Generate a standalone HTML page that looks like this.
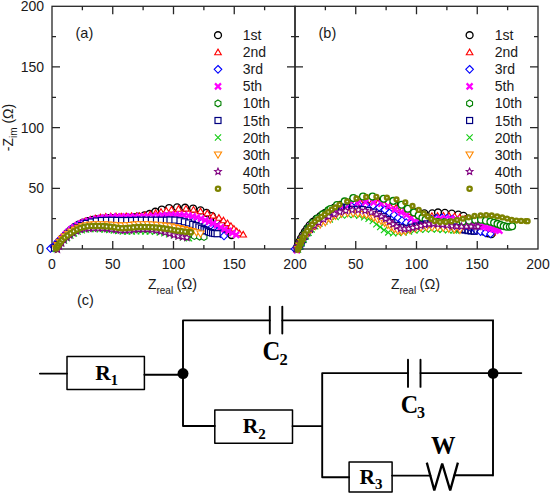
<!DOCTYPE html><html><head><meta charset="utf-8"><style>html,body{margin:0;padding:0;background:#fff;}svg{display:block;}</style></head><body><svg width="550" height="493" viewBox="0 0 550 493"><defs><g id="c1"><circle r="3.45" fill="#fff" stroke="#000" stroke-width="1.35"/></g><g id="t2"><path d="M0,-3.1L3.3,2.5L-3.3,2.5Z" fill="#fff" stroke="#f00" stroke-width="1.1"/></g><g id="d3"><path d="M0,-3.8L3.8,0L0,3.8L-3.8,0Z" fill="#fff" stroke="#00f" stroke-width="1.1"/></g><g id="x5"><path d="M-3,-3L3,3M-3,3L3,-3" stroke="#f0f" stroke-width="2.2"/></g><g id="h10"><path d="M0,-3.4L2.95,-1.7L2.95,1.7L0,3.4L-2.95,1.7L-2.95,-1.7Z" fill="#fff" stroke="#008000" stroke-width="1.1"/></g><g id="s15"><rect x="-3" y="-3" width="6" height="6" fill="#fff" stroke="#000080" stroke-width="1.2"/></g><g id="x20"><path d="M-3.1,-3.1L3.1,3.1M-3.1,3.1L3.1,-3.1" stroke="#1c1" stroke-width="1.1"/></g><g id="v30"><path d="M0,3.6L3.6,-2.6L-3.6,-2.6Z" fill="#fff" stroke="#f80" stroke-width="1.1"/></g><g id="st40"><path d="M0.00,-3.50L0.94,-1.29L3.33,-1.08L1.52,0.49L2.06,2.83L0.00,1.60L-2.06,2.83L-1.52,0.49L-3.33,-1.08L-0.94,-1.29Z" fill="#fff" stroke="#800080" stroke-width="1.1"/></g><g id="o50"><circle r="2.15" fill="#fff" stroke="#7d8300" stroke-width="2.3"/></g><g id="h10b"><circle r="3.4" fill="#fff" stroke="#008000" stroke-width="1.3"/></g><g id="s15b"><rect x="-2.9" y="-2.9" width="5.8" height="5.8" fill="none" stroke="#000080" stroke-width="1.2"/></g><g id="o50b"><circle r="1.95" fill="#fff" stroke="#7d8300" stroke-width="2.4"/></g><clipPath id="ca"><rect x="45" y="0" width="250" height="256"/></clipPath><clipPath id="cb"><rect x="295" y="0" width="250" height="256"/></clipPath></defs><rect width="550" height="493" fill="#fff"/><rect x="52.0" y="6.3" width="243.0" height="242.7" fill="none" stroke="#262626" stroke-width="1.3"/><path d="M82.38,249.00v-4.0M82.38,6.30v4.0M52.00,218.66h4.0M295.00,218.66h-4.0M112.75,249.00v-8.0M112.75,6.30v8.0M52.00,188.32h8.0M295.00,188.32h-8.0M143.12,249.00v-4.0M143.12,6.30v4.0M52.00,157.99h4.0M295.00,157.99h-4.0M173.50,249.00v-8.0M173.50,6.30v8.0M52.00,127.65h8.0M295.00,127.65h-8.0M203.88,249.00v-4.0M203.88,6.30v4.0M52.00,97.31h4.0M295.00,97.31h-4.0M234.25,249.00v-8.0M234.25,6.30v8.0M52.00,66.97h8.0M295.00,66.97h-8.0M264.62,249.00v-4.0M264.62,6.30v4.0M52.00,36.64h4.0M295.00,36.64h-4.0" stroke="#262626" stroke-width="1.3" fill="none"/><rect x="295.0" y="6.3" width="243.0" height="242.7" fill="none" stroke="#262626" stroke-width="1.3"/><path d="M325.38,249.00v-4.0M325.38,6.30v4.0M295.00,218.66h4.0M538.00,218.66h-4.0M355.75,249.00v-8.0M355.75,6.30v8.0M295.00,188.32h8.0M538.00,188.32h-8.0M386.12,249.00v-4.0M386.12,6.30v4.0M295.00,157.99h4.0M538.00,157.99h-4.0M416.50,249.00v-8.0M416.50,6.30v8.0M295.00,127.65h8.0M538.00,127.65h-8.0M446.88,249.00v-4.0M446.88,6.30v4.0M295.00,97.31h4.0M538.00,97.31h-4.0M477.25,249.00v-8.0M477.25,6.30v8.0M295.00,66.97h8.0M538.00,66.97h-8.0M507.62,249.00v-4.0M507.62,6.30v4.0M295.00,36.64h4.0M538.00,36.64h-4.0" stroke="#262626" stroke-width="1.3" fill="none"/><g><use href="#c1" x="55.5" y="248.0"/><use href="#c1" x="57.4" y="244.6"/><use href="#c1" x="59.8" y="241.4"/><use href="#c1" x="62.5" y="238.5"/><use href="#c1" x="65.1" y="235.4"/><use href="#c1" x="67.9" y="232.4"/><use href="#c1" x="71.1" y="229.5"/><use href="#c1" x="74.6" y="226.9"/><use href="#c1" x="78.6" y="224.6"/><use href="#c1" x="82.9" y="222.6"/><use href="#c1" x="87.7" y="221.1"/><use href="#c1" x="92.8" y="219.9"/><use href="#c1" x="97.9" y="219.1"/><use href="#c1" x="103.0" y="218.5"/><use href="#c1" x="108.0" y="218.1"/><use href="#c1" x="113.0" y="218.0"/><use href="#c1" x="118.0" y="218.0"/><use href="#c1" x="123.1" y="217.9"/><use href="#c1" x="128.1" y="217.7"/><use href="#c1" x="133.3" y="217.2"/><use href="#c1" x="138.0" y="216.5"/><use href="#c1" x="144.4" y="215.3"/><use href="#c1" x="149.5" y="213.9"/><use href="#c1" x="155.3" y="211.7"/><use href="#c1" x="161.8" y="209.5"/><use href="#c1" x="169.1" y="208.0"/><use href="#c1" x="177.1" y="207.3"/><use href="#c1" x="185.1" y="207.7"/><use href="#c1" x="193.1" y="208.5"/><use href="#c1" x="200.5" y="210.3"/><use href="#c1" x="206.5" y="212.8"/><use href="#c1" x="211.8" y="216.0"/><use href="#c1" x="216.8" y="220.5"/><use href="#c1" x="221.3" y="224.8"/><use href="#c1" x="225.3" y="228.8"/><use href="#c1" x="228.8" y="232.3"/><use href="#c1" x="231.5" y="235.0"/><use href="#t2" x="55.0" y="248.0"/><use href="#t2" x="57.3" y="244.6"/><use href="#t2" x="59.9" y="241.4"/><use href="#t2" x="62.7" y="238.3"/><use href="#t2" x="65.5" y="234.8"/><use href="#t2" x="68.5" y="231.5"/><use href="#t2" x="71.9" y="228.4"/><use href="#t2" x="75.7" y="225.7"/><use href="#t2" x="80.1" y="223.3"/><use href="#t2" x="85.1" y="221.2"/><use href="#t2" x="90.3" y="219.4"/><use href="#t2" x="95.3" y="218.3"/><use href="#t2" x="100.4" y="217.3"/><use href="#t2" x="105.7" y="216.7"/><use href="#t2" x="110.8" y="216.3"/><use href="#t2" x="116.0" y="216.3"/><use href="#t2" x="121.2" y="216.4"/><use href="#t2" x="126.2" y="216.2"/><use href="#t2" x="131.5" y="216.0"/><use href="#t2" x="136.5" y="216.0"/><use href="#t2" x="139.6" y="215.9"/><use href="#t2" x="145.0" y="215.2"/><use href="#t2" x="150.3" y="214.2"/><use href="#t2" x="155.6" y="213.0"/><use href="#t2" x="161.0" y="211.8"/><use href="#t2" x="166.3" y="210.6"/><use href="#t2" x="171.5" y="209.6"/><use href="#t2" x="178.5" y="208.7"/><use href="#t2" x="186.0" y="208.6"/><use href="#t2" x="193.5" y="209.6"/><use href="#t2" x="200.5" y="211.2"/><use href="#t2" x="207.3" y="213.2"/><use href="#t2" x="213.1" y="215.6"/><use href="#t2" x="218.9" y="217.7"/><use href="#t2" x="223.5" y="220.3"/><use href="#t2" x="227.5" y="223.1"/><use href="#t2" x="230.9" y="225.9"/><use href="#t2" x="233.9" y="228.6"/><use href="#t2" x="236.7" y="231.2"/><use href="#t2" x="239.6" y="233.3"/><use href="#t2" x="243.2" y="234.5"/><use href="#d3" x="50.5" y="248.5"/><use href="#d3" x="53.7" y="246.7"/><use href="#d3" x="56.2" y="243.9"/><use href="#d3" x="58.6" y="240.8"/><use href="#d3" x="61.3" y="238.2"/><use href="#d3" x="64.2" y="235.2"/><use href="#d3" x="67.0" y="232.4"/><use href="#d3" x="70.2" y="229.8"/><use href="#d3" x="73.8" y="227.5"/><use href="#d3" x="77.6" y="225.4"/><use href="#d3" x="81.9" y="223.6"/><use href="#d3" x="86.3" y="222.3"/><use href="#d3" x="90.9" y="221.3"/><use href="#d3" x="95.5" y="220.5"/><use href="#d3" x="100.2" y="219.9"/><use href="#d3" x="105.0" y="219.5"/><use href="#d3" x="109.7" y="219.3"/><use href="#d3" x="115.0" y="219.1"/><use href="#d3" x="120.0" y="219.0"/><use href="#d3" x="125.6" y="218.9"/><use href="#d3" x="130.7" y="218.8"/><use href="#d3" x="135.9" y="218.6"/><use href="#d3" x="141.0" y="218.5"/><use href="#d3" x="146.2" y="218.2"/><use href="#d3" x="151.3" y="217.8"/><use href="#d3" x="156.3" y="217.5"/><use href="#d3" x="161.7" y="217.2"/><use href="#d3" x="166.7" y="217.1"/><use href="#d3" x="171.9" y="217.2"/><use href="#d3" x="177.2" y="217.3"/><use href="#d3" x="182.0" y="217.7"/><use href="#d3" x="189.5" y="218.9"/><use href="#d3" x="193.8" y="220.4"/><use href="#d3" x="197.5" y="221.6"/><use href="#d3" x="201.5" y="222.8"/><use href="#d3" x="205.0" y="224.5"/><use href="#d3" x="208.5" y="226.0"/><use href="#d3" x="211.5" y="227.5"/><use href="#d3" x="214.5" y="229.2"/><use href="#d3" x="217.5" y="231.3"/><use href="#d3" x="220.5" y="233.6"/><use href="#d3" x="224.0" y="236.0"/><use href="#x5" x="54.5" y="248.0"/><use href="#x5" x="56.6" y="245.1"/><use href="#x5" x="58.8" y="242.2"/><use href="#x5" x="61.2" y="239.7"/><use href="#x5" x="63.5" y="237.1"/><use href="#x5" x="65.9" y="234.4"/><use href="#x5" x="68.5" y="231.8"/><use href="#x5" x="71.3" y="229.4"/><use href="#x5" x="74.4" y="227.3"/><use href="#x5" x="77.7" y="225.3"/><use href="#x5" x="81.2" y="223.5"/><use href="#x5" x="84.7" y="222.0"/><use href="#x5" x="88.4" y="220.7"/><use href="#x5" x="92.3" y="219.7"/><use href="#x5" x="96.4" y="218.8"/><use href="#x5" x="100.5" y="218.1"/><use href="#x5" x="104.5" y="217.6"/><use href="#x5" x="108.5" y="217.1"/><use href="#x5" x="112.8" y="216.8"/><use href="#x5" x="117.1" y="216.6"/><use href="#x5" x="121.3" y="216.5"/><use href="#x5" x="125.6" y="216.5"/><use href="#x5" x="130.3" y="216.6"/><use href="#x5" x="135.0" y="216.6"/><use href="#x5" x="139.5" y="216.5"/><use href="#x5" x="144.0" y="216.4"/><use href="#x5" x="148.5" y="216.3"/><use href="#x5" x="153.1" y="216.0"/><use href="#x5" x="157.8" y="215.7"/><use href="#x5" x="162.3" y="215.4"/><use href="#x5" x="166.8" y="215.1"/><use href="#x5" x="171.2" y="214.9"/><use href="#x5" x="175.5" y="214.8"/><use href="#x5" x="179.7" y="214.9"/><use href="#x5" x="184.1" y="215.1"/><use href="#x5" x="188.4" y="215.6"/><use href="#x5" x="192.6" y="216.3"/><use href="#x5" x="196.8" y="217.3"/><use href="#x5" x="201.0" y="218.5"/><use href="#x5" x="205.2" y="220.1"/><use href="#x5" x="209.2" y="221.6"/><use href="#x5" x="213.0" y="223.4"/><use href="#x5" x="217.0" y="225.3"/><use href="#x5" x="220.8" y="227.2"/><use href="#x5" x="224.5" y="229.1"/><use href="#x5" x="228.4" y="231.1"/><use href="#x5" x="232.4" y="233.0"/><use href="#x5" x="236.2" y="234.9"/><use href="#h10" x="56.0" y="249.0"/><use href="#h10" x="58.2" y="245.9"/><use href="#h10" x="60.5" y="242.8"/><use href="#h10" x="63.1" y="239.8"/><use href="#h10" x="66.0" y="237.0"/><use href="#h10" x="69.1" y="234.3"/><use href="#h10" x="72.7" y="232.0"/><use href="#h10" x="76.3" y="230.1"/><use href="#h10" x="80.4" y="228.6"/><use href="#h10" x="84.6" y="227.6"/><use href="#h10" x="88.9" y="226.9"/><use href="#h10" x="93.5" y="226.6"/><use href="#h10" x="98.0" y="226.5"/><use href="#h10" x="103.0" y="226.7"/><use href="#h10" x="108.0" y="227.1"/><use href="#h10" x="113.0" y="227.8"/><use href="#h10" x="118.0" y="228.3"/><use href="#h10" x="123.0" y="228.7"/><use href="#h10" x="128.0" y="228.8"/><use href="#h10" x="133.0" y="228.6"/><use href="#h10" x="137.8" y="228.4"/><use href="#h10" x="142.7" y="228.3"/><use href="#h10" x="147.7" y="228.4"/><use href="#h10" x="153.2" y="228.5"/><use href="#h10" x="158.6" y="228.9"/><use href="#h10" x="163.9" y="229.5"/><use href="#h10" x="169.2" y="230.4"/><use href="#h10" x="174.1" y="231.5"/><use href="#h10" x="179.1" y="232.8"/><use href="#h10" x="184.0" y="234.0"/><use href="#h10" x="189.2" y="235.1"/><use href="#h10" x="194.4" y="236.0"/><use href="#h10" x="199.6" y="236.6"/><use href="#h10" x="204.0" y="237.0"/><use href="#s15" x="54.5" y="248.0"/><use href="#s15" x="57.0" y="245.0"/><use href="#s15" x="59.7" y="242.1"/><use href="#s15" x="62.7" y="239.3"/><use href="#s15" x="66.0" y="236.2"/><use href="#s15" x="69.5" y="233.2"/><use href="#s15" x="73.3" y="230.5"/><use href="#s15" x="77.4" y="227.8"/><use href="#s15" x="81.7" y="225.5"/><use href="#s15" x="86.2" y="223.4"/><use href="#s15" x="91.2" y="222.0"/><use href="#s15" x="96.3" y="221.0"/><use href="#s15" x="101.4" y="220.5"/><use href="#s15" x="106.5" y="220.3"/><use href="#s15" x="111.6" y="220.3"/><use href="#s15" x="116.7" y="220.4"/><use href="#s15" x="121.6" y="220.5"/><use href="#s15" x="126.7" y="220.5"/><use href="#s15" x="131.6" y="220.5"/><use href="#s15" x="136.5" y="220.3"/><use href="#s15" x="141.4" y="220.2"/><use href="#s15" x="146.4" y="220.2"/><use href="#s15" x="151.4" y="220.2"/><use href="#s15" x="156.5" y="220.2"/><use href="#s15" x="161.4" y="220.2"/><use href="#s15" x="166.4" y="220.2"/><use href="#s15" x="170.0" y="220.0"/><use href="#s15" x="174.9" y="220.1"/><use href="#s15" x="180.0" y="220.7"/><use href="#s15" x="184.4" y="221.8"/><use href="#s15" x="188.7" y="222.9"/><use href="#s15" x="192.7" y="224.4"/><use href="#s15" x="196.0" y="225.6"/><use href="#s15" x="198.9" y="226.9"/><use href="#s15" x="201.5" y="228.3"/><use href="#s15" x="204.0" y="229.6"/><use href="#s15" x="206.2" y="230.7"/><use href="#s15" x="208.4" y="231.7"/><use href="#s15" x="210.5" y="232.5"/><use href="#s15" x="212.6" y="233.1"/><use href="#s15" x="214.6" y="233.5"/><use href="#s15" x="217.1" y="233.7"/><use href="#x20" x="56.0" y="249.0"/><use href="#x20" x="58.5" y="246.1"/><use href="#x20" x="61.1" y="243.3"/><use href="#x20" x="64.0" y="240.6"/><use href="#x20" x="67.0" y="238.0"/><use href="#x20" x="70.4" y="235.5"/><use href="#x20" x="73.9" y="233.4"/><use href="#x20" x="77.7" y="231.6"/><use href="#x20" x="81.8" y="230.3"/><use href="#x20" x="86.0" y="229.5"/><use href="#x20" x="90.5" y="229.0"/><use href="#x20" x="95.0" y="229.0"/><use href="#x20" x="99.8" y="229.2"/><use href="#x20" x="104.5" y="229.6"/><use href="#x20" x="109.2" y="229.9"/><use href="#x20" x="113.8" y="230.4"/><use href="#x20" x="118.2" y="230.9"/><use href="#x20" x="122.8" y="231.4"/><use href="#x20" x="127.2" y="231.6"/><use href="#x20" x="131.8" y="231.5"/><use href="#x20" x="136.2" y="231.3"/><use href="#x20" x="140.8" y="231.3"/><use href="#x20" x="145.3" y="231.4"/><use href="#x20" x="149.9" y="231.5"/><use href="#x20" x="155.0" y="231.8"/><use href="#x20" x="159.8" y="232.4"/><use href="#x20" x="164.4" y="233.3"/><use href="#x20" x="169.1" y="234.2"/><use href="#x20" x="173.9" y="235.3"/><use href="#x20" x="178.4" y="236.4"/><use href="#x20" x="182.9" y="237.4"/><use href="#x20" x="187.4" y="238.0"/><use href="#x20" x="189.0" y="238.2"/><use href="#v30" x="56.0" y="248.5"/><use href="#v30" x="57.8" y="245.1"/><use href="#v30" x="59.9" y="242.0"/><use href="#v30" x="62.2" y="239.0"/><use href="#v30" x="65.0" y="236.3"/><use href="#v30" x="68.1" y="233.9"/><use href="#v30" x="71.3" y="231.6"/><use href="#v30" x="74.7" y="229.7"/><use href="#v30" x="78.3" y="228.0"/><use href="#v30" x="82.1" y="226.5"/><use href="#v30" x="86.0" y="225.4"/><use href="#v30" x="90.4" y="224.7"/><use href="#v30" x="94.8" y="224.3"/><use href="#v30" x="99.2" y="224.3"/><use href="#v30" x="103.6" y="224.4"/><use href="#v30" x="108.0" y="224.6"/><use href="#v30" x="112.4" y="224.8"/><use href="#v30" x="116.8" y="225.3"/><use href="#v30" x="121.2" y="225.5"/><use href="#v30" x="125.7" y="225.4"/><use href="#v30" x="130.1" y="225.1"/><use href="#v30" x="134.6" y="224.5"/><use href="#v30" x="138.8" y="224.3"/><use href="#v30" x="143.5" y="224.3"/><use href="#v30" x="148.0" y="224.4"/><use href="#v30" x="152.5" y="224.6"/><use href="#v30" x="157.0" y="224.8"/><use href="#v30" x="161.7" y="225.3"/><use href="#v30" x="166.2" y="225.7"/><use href="#v30" x="170.6" y="226.4"/><use href="#v30" x="174.8" y="227.3"/><use href="#v30" x="179.2" y="228.2"/><use href="#v30" x="183.6" y="229.2"/><use href="#v30" x="188.0" y="230.2"/><use href="#v30" x="192.2" y="231.2"/><use href="#v30" x="196.4" y="232.4"/><use href="#v30" x="200.5" y="233.6"/><use href="#st40" x="57.5" y="249.5"/><use href="#st40" x="59.5" y="246.3"/><use href="#st40" x="61.6" y="243.1"/><use href="#st40" x="63.7" y="239.9"/><use href="#st40" x="66.7" y="237.5"/><use href="#st40" x="69.7" y="235.2"/><use href="#st40" x="73.0" y="233.0"/><use href="#st40" x="76.5" y="231.1"/><use href="#st40" x="80.3" y="229.6"/><use href="#st40" x="84.5" y="228.8"/><use href="#st40" x="88.8" y="228.5"/><use href="#st40" x="93.3" y="228.3"/><use href="#st40" x="98.0" y="228.3"/><use href="#st40" x="102.5" y="228.4"/><use href="#st40" x="107.0" y="228.7"/><use href="#st40" x="111.5" y="229.2"/><use href="#st40" x="116.0" y="229.9"/><use href="#st40" x="120.5" y="230.3"/><use href="#st40" x="125.0" y="230.4"/><use href="#st40" x="129.5" y="230.2"/><use href="#st40" x="134.0" y="229.8"/><use href="#st40" x="138.5" y="229.4"/><use href="#st40" x="143.0" y="229.3"/><use href="#st40" x="147.5" y="229.4"/><use href="#st40" x="152.0" y="229.8"/><use href="#st40" x="156.6" y="230.4"/><use href="#st40" x="160.9" y="231.2"/><use href="#st40" x="165.4" y="232.3"/><use href="#st40" x="169.8" y="233.6"/><use href="#st40" x="174.0" y="235.0"/><use href="#st40" x="178.2" y="236.1"/><use href="#st40" x="182.7" y="236.9"/><use href="#st40" x="186.9" y="237.6"/><use href="#o50" x="56.0" y="248.5"/><use href="#o50" x="57.1" y="247.0"/><use href="#o50" x="58.2" y="245.4"/><use href="#o50" x="59.4" y="243.8"/><use href="#o50" x="60.6" y="242.0"/><use href="#o50" x="62.4" y="239.7"/><use href="#o50" x="64.8" y="237.5"/><use href="#o50" x="67.6" y="235.4"/><use href="#o50" x="70.7" y="233.2"/><use href="#o50" x="73.8" y="231.2"/><use href="#o50" x="77.1" y="229.6"/><use href="#o50" x="80.4" y="228.1"/><use href="#o50" x="84.0" y="226.9"/><use href="#o50" x="87.6" y="226.2"/><use href="#o50" x="91.6" y="226.0"/><use href="#o50" x="95.5" y="225.9"/><use href="#o50" x="99.3" y="226.0"/><use href="#o50" x="103.1" y="226.1"/><use href="#o50" x="106.7" y="226.4"/><use href="#o50" x="110.7" y="226.8"/><use href="#o50" x="114.4" y="227.3"/><use href="#o50" x="118.2" y="227.9"/><use href="#o50" x="122.1" y="228.3"/><use href="#o50" x="126.1" y="228.1"/><use href="#o50" x="129.7" y="227.8"/><use href="#o50" x="133.3" y="227.4"/><use href="#o50" x="137.2" y="227.0"/><use href="#o50" x="140.9" y="226.9"/><use href="#o50" x="144.8" y="227.0"/><use href="#o50" x="148.7" y="227.1"/><use href="#o50" x="152.4" y="227.2"/><use href="#o50" x="156.1" y="227.5"/><use href="#o50" x="159.7" y="227.9"/><use href="#o50" x="163.4" y="228.4"/><use href="#o50" x="167.0" y="228.9"/><use href="#o50" x="170.7" y="229.5"/><use href="#o50" x="174.5" y="230.2"/><use href="#o50" x="178.1" y="230.7"/><use href="#o50" x="181.9" y="231.3"/><use href="#o50" x="185.4" y="231.7"/><use href="#o50" x="189.1" y="232.1"/><use href="#o50" x="190.9" y="232.3"/></g><g><use href="#c1" x="296.5" y="248.5"/><use href="#c1" x="297.9" y="245.1"/><use href="#c1" x="299.4" y="241.7"/><use href="#c1" x="301.0" y="238.5"/><use href="#c1" x="302.8" y="235.1"/><use href="#c1" x="304.9" y="231.7"/><use href="#c1" x="307.2" y="228.4"/><use href="#c1" x="309.8" y="225.1"/><use href="#c1" x="312.9" y="221.8"/><use href="#c1" x="316.4" y="218.8"/><use href="#c1" x="320.5" y="216.0"/><use href="#c1" x="324.7" y="213.2"/><use href="#c1" x="329.5" y="210.3"/><use href="#c1" x="334.6" y="207.5"/><use href="#c1" x="340.1" y="204.9"/><use href="#c1" x="346.0" y="202.6"/><use href="#c1" x="351.9" y="201.1"/><use href="#c1" x="358.0" y="200.0"/><use href="#c1" x="364.3" y="199.4"/><use href="#c1" x="370.4" y="199.5"/><use href="#c1" x="376.4" y="200.0"/><use href="#c1" x="382.5" y="201.0"/><use href="#c1" x="388.5" y="202.3"/><use href="#c1" x="394.5" y="204.1"/><use href="#c1" x="400.5" y="206.2"/><use href="#c1" x="406.5" y="208.5"/><use href="#c1" x="412.4" y="210.6"/><use href="#c1" x="418.3" y="212.3"/><use href="#c1" x="424.4" y="213.3"/><use href="#c1" x="432.2" y="213.3"/><use href="#c1" x="438.0" y="212.4"/><use href="#c1" x="444.9" y="212.8"/><use href="#c1" x="451.8" y="213.6"/><use href="#c1" x="458.3" y="214.6"/><use href="#c1" x="463.5" y="215.8"/><use href="#c1" x="468.0" y="218.5"/><use href="#c1" x="472.0" y="222.0"/><use href="#c1" x="476.0" y="225.5"/><use href="#c1" x="480.0" y="228.8"/><use href="#c1" x="484.0" y="231.5"/><use href="#c1" x="488.0" y="233.3"/><use href="#c1" x="491.5" y="234.2"/><use href="#t2" x="297.0" y="249.5"/><use href="#t2" x="298.4" y="246.1"/><use href="#t2" x="299.9" y="242.7"/><use href="#t2" x="301.5" y="239.5"/><use href="#t2" x="303.3" y="236.1"/><use href="#t2" x="305.4" y="232.7"/><use href="#t2" x="307.7" y="229.4"/><use href="#t2" x="310.3" y="226.1"/><use href="#t2" x="313.2" y="223.0"/><use href="#t2" x="316.5" y="220.1"/><use href="#t2" x="320.3" y="217.4"/><use href="#t2" x="324.5" y="214.7"/><use href="#t2" x="328.7" y="212.1"/><use href="#t2" x="333.2" y="209.4"/><use href="#t2" x="338.2" y="207.0"/><use href="#t2" x="343.4" y="204.7"/><use href="#t2" x="349.0" y="203.3"/><use href="#t2" x="354.7" y="202.6"/><use href="#t2" x="360.3" y="202.0"/><use href="#t2" x="366.0" y="201.8"/><use href="#t2" x="371.9" y="202.1"/><use href="#t2" x="378.0" y="202.8"/><use href="#t2" x="384.0" y="204.2"/><use href="#t2" x="390.0" y="205.9"/><use href="#t2" x="396.0" y="207.8"/><use href="#t2" x="402.0" y="209.9"/><use href="#t2" x="407.9" y="212.0"/><use href="#t2" x="413.7" y="213.9"/><use href="#t2" x="419.7" y="215.3"/><use href="#t2" x="425.8" y="216.0"/><use href="#t2" x="431.9" y="215.9"/><use href="#t2" x="437.6" y="215.8"/><use href="#t2" x="443.5" y="215.6"/><use href="#t2" x="449.0" y="215.7"/><use href="#t2" x="454.6" y="216.1"/><use href="#t2" x="459.7" y="217.2"/><use href="#t2" x="464.8" y="218.9"/><use href="#t2" x="469.6" y="220.9"/><use href="#t2" x="474.4" y="223.2"/><use href="#t2" x="479.2" y="225.6"/><use href="#t2" x="483.7" y="228.1"/><use href="#t2" x="488.2" y="230.6"/><use href="#t2" x="492.0" y="232.5"/><use href="#d3" x="295.0" y="249.0"/><use href="#d3" x="297.8" y="246.9"/><use href="#d3" x="299.8" y="243.9"/><use href="#d3" x="301.3" y="240.5"/><use href="#d3" x="303.1" y="237.0"/><use href="#d3" x="304.9" y="233.9"/><use href="#d3" x="307.1" y="230.6"/><use href="#d3" x="309.5" y="227.6"/><use href="#d3" x="312.2" y="224.6"/><use href="#d3" x="315.2" y="221.6"/><use href="#d3" x="318.6" y="219.1"/><use href="#d3" x="322.3" y="216.6"/><use href="#d3" x="326.2" y="214.1"/><use href="#d3" x="330.2" y="211.7"/><use href="#d3" x="334.6" y="209.2"/><use href="#d3" x="339.3" y="207.0"/><use href="#d3" x="344.5" y="204.8"/><use href="#d3" x="350.8" y="205.5"/><use href="#d3" x="358.4" y="204.7"/><use href="#d3" x="366.0" y="204.6"/><use href="#d3" x="373.0" y="205.6"/><use href="#d3" x="379.2" y="207.3"/><use href="#d3" x="384.9" y="209.8"/><use href="#d3" x="389.5" y="212.8"/><use href="#d3" x="394.0" y="215.0"/><use href="#d3" x="398.0" y="217.8"/><use href="#d3" x="402.0" y="220.5"/><use href="#d3" x="406.3" y="222.7"/><use href="#d3" x="411.4" y="223.3"/><use href="#d3" x="416.6" y="222.7"/><use href="#d3" x="421.7" y="221.7"/><use href="#d3" x="426.7" y="220.4"/><use href="#d3" x="431.6" y="219.3"/><use href="#d3" x="436.8" y="218.3"/><use href="#d3" x="442.0" y="217.9"/><use href="#d3" x="447.2" y="218.1"/><use href="#d3" x="452.4" y="219.0"/><use href="#d3" x="457.3" y="220.8"/><use href="#d3" x="462.0" y="223.0"/><use href="#d3" x="466.5" y="225.7"/><use href="#d3" x="471.0" y="228.0"/><use href="#d3" x="475.8" y="230.0"/><use href="#d3" x="480.6" y="231.6"/><use href="#d3" x="485.4" y="232.9"/><use href="#d3" x="490.5" y="233.9"/><use href="#x5" x="297.0" y="250.3"/><use href="#x5" x="298.4" y="246.9"/><use href="#x5" x="299.9" y="243.5"/><use href="#x5" x="301.6" y="240.1"/><use href="#x5" x="303.4" y="236.7"/><use href="#x5" x="305.6" y="233.1"/><use href="#x5" x="308.2" y="229.6"/><use href="#x5" x="311.0" y="226.2"/><use href="#x5" x="314.3" y="222.8"/><use href="#x5" x="318.4" y="219.5"/><use href="#x5" x="323.0" y="216.4"/><use href="#x5" x="328.0" y="213.3"/><use href="#x5" x="334.0" y="209.8"/><use href="#x5" x="341.4" y="206.2"/><use href="#x5" x="349.4" y="204.8"/><use href="#x5" x="357.6" y="203.3"/><use href="#x5" x="365.5" y="202.3"/><use href="#x5" x="373.6" y="202.4"/><use href="#x5" x="381.4" y="203.8"/><use href="#x5" x="388.5" y="206.3"/><use href="#x5" x="395.0" y="209.6"/><use href="#x5" x="401.1" y="212.4"/><use href="#x5" x="406.4" y="215.0"/><use href="#x5" x="410.7" y="218.3"/><use href="#x5" x="414.9" y="221.1"/><use href="#x5" x="419.9" y="221.6"/><use href="#x5" x="425.1" y="221.0"/><use href="#x5" x="430.2" y="220.1"/><use href="#x5" x="435.4" y="219.3"/><use href="#x5" x="440.5" y="218.6"/><use href="#x5" x="445.7" y="218.5"/><use href="#x5" x="450.7" y="218.9"/><use href="#x5" x="455.7" y="219.4"/><use href="#x5" x="459.5" y="220.0"/><use href="#x5" x="462.8" y="220.7"/><use href="#x5" x="466.0" y="221.5"/><use href="#x5" x="469.1" y="222.4"/><use href="#x5" x="472.2" y="223.2"/><use href="#x5" x="475.2" y="224.1"/><use href="#x5" x="478.2" y="225.0"/><use href="#x5" x="481.2" y="225.9"/><use href="#x5" x="484.2" y="226.8"/><use href="#x5" x="487.3" y="227.6"/><use href="#x5" x="490.4" y="228.4"/><use href="#x5" x="493.5" y="229.2"/><use href="#x5" x="496.4" y="229.9"/><use href="#x5" x="499.4" y="230.6"/><use href="#h10b" x="297.8" y="248.0"/><use href="#h10b" x="299.2" y="244.4"/><use href="#h10b" x="300.9" y="240.9"/><use href="#h10b" x="303.1" y="237.0"/><use href="#h10b" x="305.5" y="233.0"/><use href="#h10b" x="308.5" y="228.3"/><use href="#h10b" x="312.4" y="223.1"/><use href="#h10b" x="317.4" y="218.5"/><use href="#h10b" x="322.7" y="214.4"/><use href="#h10b" x="328.4" y="210.4"/><use href="#h10b" x="330.5" y="209.0"/><use href="#h10b" x="337.0" y="205.0"/><use href="#h10b" x="344.7" y="201.4"/><use href="#h10b" x="353.3" y="198.1"/><use href="#h10b" x="363.0" y="196.5"/><use href="#h10b" x="372.5" y="196.6"/><use href="#h10b" x="383.7" y="198.7"/><use href="#h10b" x="393.3" y="200.9"/><use href="#h10b" x="401.6" y="204.8"/><use href="#h10b" x="407.8" y="208.8"/><use href="#h10b" x="414.0" y="212.5"/><use href="#h10b" x="418.7" y="215.4"/><use href="#h10b" x="422.4" y="217.9"/><use href="#h10b" x="425.6" y="219.7"/><use href="#h10b" x="431.5" y="221.2"/><use href="#h10b" x="437.9" y="222.0"/><use href="#h10b" x="444.0" y="222.4"/><use href="#h10b" x="450.0" y="222.5"/><use href="#h10b" x="456.5" y="222.3"/><use href="#h10b" x="462.8" y="221.6"/><use href="#h10b" x="469.1" y="220.8"/><use href="#h10b" x="475.3" y="220.1"/><use href="#h10b" x="481.0" y="219.7"/><use href="#h10b" x="485.9" y="220.8"/><use href="#h10b" x="490.4" y="221.8"/><use href="#h10b" x="494.1" y="222.7"/><use href="#h10b" x="497.5" y="223.9"/><use href="#h10b" x="500.6" y="225.1"/><use href="#h10b" x="503.7" y="226.1"/><use href="#h10b" x="506.7" y="226.8"/><use href="#h10b" x="509.8" y="226.7"/><use href="#h10b" x="512.1" y="226.2"/><use href="#s15b" x="297.0" y="248.5"/><use href="#s15b" x="299.8" y="246.5"/><use href="#s15b" x="301.2" y="243.1"/><use href="#s15b" x="302.9" y="239.7"/><use href="#s15b" x="304.9" y="236.3"/><use href="#s15b" x="307.1" y="232.9"/><use href="#s15b" x="309.6" y="229.6"/><use href="#s15b" x="312.3" y="226.4"/><use href="#s15b" x="315.5" y="223.3"/><use href="#s15b" x="319.1" y="220.6"/><use href="#s15b" x="323.1" y="217.9"/><use href="#s15b" x="327.2" y="215.3"/><use href="#s15b" x="331.7" y="212.6"/><use href="#s15b" x="336.4" y="210.0"/><use href="#s15b" x="341.4" y="207.6"/><use href="#s15b" x="346.7" y="207.0"/><use href="#s15b" x="351.7" y="209.4"/><use href="#s15b" x="357.3" y="209.1"/><use href="#s15b" x="362.8" y="209.5"/><use href="#s15b" x="368.1" y="210.5"/><use href="#s15b" x="373.4" y="212.0"/><use href="#s15b" x="378.5" y="214.2"/><use href="#s15b" x="383.3" y="216.6"/><use href="#s15b" x="387.7" y="219.4"/><use href="#s15b" x="391.9" y="222.6"/><use href="#s15b" x="396.3" y="225.4"/><use href="#s15b" x="401.0" y="227.6"/><use href="#s15b" x="406.3" y="228.1"/><use href="#s15b" x="411.4" y="227.1"/><use href="#s15b" x="416.4" y="226.0"/><use href="#s15b" x="421.5" y="224.8"/><use href="#s15b" x="426.3" y="223.8"/><use href="#s15b" x="430.8" y="223.4"/><use href="#s15b" x="435.0" y="223.6"/><use href="#s15b" x="438.9" y="224.0"/><use href="#s15b" x="442.6" y="224.4"/><use href="#s15b" x="446.2" y="225.0"/><use href="#s15b" x="449.7" y="225.9"/><use href="#s15b" x="453.0" y="226.8"/><use href="#s15b" x="455.9" y="227.8"/><use href="#s15b" x="458.9" y="228.8"/><use href="#s15b" x="461.9" y="229.5"/><use href="#s15b" x="464.9" y="230.2"/><use href="#s15b" x="468.0" y="230.7"/><use href="#s15b" x="471.1" y="231.1"/><use href="#s15b" x="474.3" y="231.4"/><use href="#x20" x="298.0" y="249.5"/><use href="#x20" x="299.6" y="246.2"/><use href="#x20" x="301.5" y="242.9"/><use href="#x20" x="303.6" y="239.6"/><use href="#x20" x="305.9" y="236.2"/><use href="#x20" x="308.6" y="232.7"/><use href="#x20" x="311.6" y="229.4"/><use href="#x20" x="315.2" y="226.3"/><use href="#x20" x="319.4" y="223.6"/><use href="#x20" x="324.4" y="221.4"/><use href="#x20" x="329.8" y="219.4"/><use href="#x20" x="335.6" y="217.1"/><use href="#x20" x="341.9" y="215.5"/><use href="#x20" x="348.0" y="214.7"/><use href="#x20" x="353.8" y="215.1"/><use href="#x20" x="359.3" y="215.8"/><use href="#x20" x="364.2" y="217.2"/><use href="#x20" x="368.6" y="218.8"/><use href="#x20" x="372.8" y="221.0"/><use href="#x20" x="376.4" y="224.2"/><use href="#x20" x="380.2" y="227.1"/><use href="#x20" x="384.0" y="230.1"/><use href="#x20" x="388.3" y="232.4"/><use href="#x20" x="393.2" y="233.3"/><use href="#x20" x="398.3" y="233.1"/><use href="#x20" x="403.5" y="232.6"/><use href="#x20" x="408.9" y="231.6"/><use href="#x20" x="414.3" y="230.6"/><use href="#x20" x="420.0" y="229.8"/><use href="#x20" x="425.7" y="229.5"/><use href="#x20" x="431.4" y="229.3"/><use href="#x20" x="437.1" y="229.4"/><use href="#x20" x="442.7" y="229.9"/><use href="#x20" x="448.2" y="230.2"/><use href="#x20" x="453.7" y="230.4"/><use href="#x20" x="456.0" y="230.5"/><use href="#v30" x="298.0" y="249.0"/><use href="#v30" x="299.6" y="245.7"/><use href="#v30" x="301.5" y="242.2"/><use href="#v30" x="303.5" y="239.0"/><use href="#v30" x="305.7" y="235.7"/><use href="#v30" x="308.3" y="232.3"/><use href="#v30" x="311.4" y="229.1"/><use href="#v30" x="315.3" y="226.1"/><use href="#v30" x="320.2" y="224.5"/><use href="#v30" x="325.3" y="222.2"/><use href="#v30" x="330.3" y="219.3"/><use href="#v30" x="335.6" y="215.8"/><use href="#v30" x="341.6" y="213.8"/><use href="#v30" x="347.7" y="213.2"/><use href="#v30" x="353.1" y="213.3"/><use href="#v30" x="357.9" y="213.6"/><use href="#v30" x="362.4" y="214.1"/><use href="#v30" x="366.4" y="214.9"/><use href="#v30" x="370.4" y="215.9"/><use href="#v30" x="373.8" y="217.8"/><use href="#v30" x="377.5" y="219.4"/><use href="#v30" x="381.1" y="220.9"/><use href="#v30" x="384.6" y="222.8"/><use href="#v30" x="387.8" y="224.9"/><use href="#v30" x="391.0" y="227.1"/><use href="#v30" x="394.3" y="229.2"/><use href="#v30" x="397.8" y="230.8"/><use href="#v30" x="401.5" y="231.5"/><use href="#v30" x="405.4" y="231.2"/><use href="#v30" x="410.0" y="230.0"/><use href="#v30" x="415.3" y="228.6"/><use href="#v30" x="420.9" y="227.8"/><use href="#v30" x="426.5" y="227.4"/><use href="#v30" x="432.1" y="227.4"/><use href="#v30" x="437.7" y="227.6"/><use href="#v30" x="443.3" y="227.9"/><use href="#v30" x="448.8" y="228.7"/><use href="#v30" x="454.3" y="229.5"/><use href="#v30" x="459.9" y="230.0"/><use href="#st40" x="297.0" y="249.0"/><use href="#st40" x="298.6" y="245.7"/><use href="#st40" x="300.3" y="242.4"/><use href="#st40" x="302.3" y="239.1"/><use href="#st40" x="304.5" y="235.8"/><use href="#st40" x="307.1" y="232.4"/><use href="#st40" x="310.4" y="228.9"/><use href="#st40" x="314.3" y="225.7"/><use href="#st40" x="318.8" y="222.5"/><use href="#st40" x="323.6" y="219.3"/><use href="#st40" x="328.8" y="216.6"/><use href="#st40" x="334.3" y="214.1"/><use href="#st40" x="339.9" y="212.0"/><use href="#st40" x="345.7" y="210.7"/><use href="#st40" x="352.2" y="210.0"/><use href="#st40" x="358.4" y="210.0"/><use href="#st40" x="365.0" y="210.7"/><use href="#st40" x="371.2" y="212.3"/><use href="#st40" x="376.7" y="214.4"/><use href="#st40" x="381.4" y="216.6"/><use href="#st40" x="385.6" y="218.9"/><use href="#st40" x="389.4" y="221.6"/><use href="#st40" x="393.0" y="224.3"/><use href="#st40" x="396.7" y="226.6"/><use href="#st40" x="400.5" y="228.5"/><use href="#st40" x="404.5" y="229.1"/><use href="#st40" x="408.6" y="228.8"/><use href="#st40" x="412.8" y="227.7"/><use href="#st40" x="416.8" y="226.7"/><use href="#st40" x="420.8" y="225.8"/><use href="#st40" x="424.9" y="224.7"/><use href="#st40" x="429.1" y="224.1"/><use href="#st40" x="433.4" y="223.9"/><use href="#st40" x="437.9" y="224.2"/><use href="#st40" x="442.6" y="224.7"/><use href="#st40" x="447.3" y="225.3"/><use href="#st40" x="452.0" y="226.0"/><use href="#st40" x="456.8" y="226.4"/><use href="#st40" x="461.6" y="226.5"/><use href="#st40" x="466.5" y="226.5"/><use href="#st40" x="471.1" y="226.4"/><use href="#st40" x="475.7" y="226.3"/><use href="#st40" x="478.0" y="226.5"/><use href="#o50b" x="298.0" y="249.5"/><use href="#o50b" x="298.7" y="247.8"/><use href="#o50b" x="299.5" y="246.0"/><use href="#o50b" x="300.3" y="244.1"/><use href="#o50b" x="301.1" y="242.3"/><use href="#o50b" x="301.9" y="240.3"/><use href="#o50b" x="302.8" y="238.5"/><use href="#o50b" x="303.7" y="236.6"/><use href="#o50b" x="305.1" y="233.9"/><use href="#o50b" x="307.2" y="230.7"/><use href="#o50b" x="309.6" y="227.6"/><use href="#o50b" x="312.1" y="224.5"/><use href="#o50b" x="314.9" y="221.6"/><use href="#o50b" x="317.9" y="219.1"/><use href="#o50b" x="321.4" y="216.8"/><use href="#o50b" x="324.7" y="214.4"/><use href="#o50b" x="328.2" y="212.1"/><use href="#o50b" x="331.6" y="209.6"/><use href="#o50b" x="335.2" y="207.4"/><use href="#o50b" x="339.5" y="204.6"/><use href="#o50b" x="347.2" y="201.4"/><use href="#o50b" x="356.5" y="198.5"/><use href="#o50b" x="366.2" y="196.9"/><use href="#o50b" x="376.4" y="196.8"/><use href="#o50b" x="386.9" y="197.7"/><use href="#o50b" x="396.5" y="199.4"/><use href="#o50b" x="405.3" y="202.3"/><use href="#o50b" x="412.5" y="205.9"/><use href="#o50b" x="418.7" y="209.9"/><use href="#o50b" x="423.8" y="213.5"/><use href="#o50b" x="427.8" y="216.5"/><use href="#o50b" x="431.4" y="218.9"/><use href="#o50b" x="434.6" y="221.0"/><use href="#o50b" x="440.0" y="222.0"/><use href="#o50b" x="445.8" y="221.9"/><use href="#o50b" x="451.5" y="221.3"/><use href="#o50b" x="457.1" y="220.0"/><use href="#o50b" x="462.9" y="218.7"/><use href="#o50b" x="468.7" y="217.3"/><use href="#o50b" x="474.5" y="216.0"/><use href="#o50b" x="480.6" y="215.4"/><use href="#o50b" x="486.2" y="215.1"/><use href="#o50b" x="491.7" y="215.5"/><use href="#o50b" x="497.1" y="216.4"/><use href="#o50b" x="502.2" y="217.4"/><use href="#o50b" x="507.1" y="218.6"/><use href="#o50b" x="511.7" y="220.0"/><use href="#o50b" x="516.4" y="220.6"/><use href="#o50b" x="521.1" y="220.9"/><use href="#o50b" x="525.8" y="221.1"/><use href="#o50b" x="527.6" y="221.2"/></g><text x="44" y="254.0" font-family="Liberation Sans, sans-serif" font-size="14" text-anchor="end" fill="#1a1a1a">0</text><text x="44" y="193.2" font-family="Liberation Sans, sans-serif" font-size="14" text-anchor="end" fill="#1a1a1a">50</text><text x="44" y="132.5" font-family="Liberation Sans, sans-serif" font-size="14" text-anchor="end" fill="#1a1a1a">100</text><text x="44" y="71.8" font-family="Liberation Sans, sans-serif" font-size="14" text-anchor="end" fill="#1a1a1a">150</text><text x="44" y="11.0" font-family="Liberation Sans, sans-serif" font-size="14" text-anchor="end" fill="#1a1a1a">200</text><text x="52.0" y="268.5" font-family="Liberation Sans, sans-serif" font-size="14" text-anchor="middle" fill="#1a1a1a">0</text><text x="112.8" y="268.5" font-family="Liberation Sans, sans-serif" font-size="14" text-anchor="middle" fill="#1a1a1a">50</text><text x="173.5" y="268.5" font-family="Liberation Sans, sans-serif" font-size="14" text-anchor="middle" fill="#1a1a1a">100</text><text x="234.2" y="268.5" font-family="Liberation Sans, sans-serif" font-size="14" text-anchor="middle" fill="#1a1a1a">150</text><text x="295.0" y="268.5" font-family="Liberation Sans, sans-serif" font-size="14" text-anchor="middle" fill="#1a1a1a">200</text><text x="355.8" y="268.5" font-family="Liberation Sans, sans-serif" font-size="14" text-anchor="middle" fill="#1a1a1a">50</text><text x="416.5" y="268.5" font-family="Liberation Sans, sans-serif" font-size="14" text-anchor="middle" fill="#1a1a1a">100</text><text x="477.2" y="268.5" font-family="Liberation Sans, sans-serif" font-size="14" text-anchor="middle" fill="#1a1a1a">150</text><text x="538.0" y="268.5" font-family="Liberation Sans, sans-serif" font-size="14" text-anchor="middle" fill="#1a1a1a">200</text><text x="172.5" y="289" font-family="Liberation Sans, sans-serif" font-size="14" text-anchor="middle" fill="#1a1a1a">Z<tspan font-size="10" dy="4.8">real</tspan><tspan dy="-4.8" dx="-0.6" font-size="14.5"> (&#937;)</tspan></text><text x="415.5" y="289" font-family="Liberation Sans, sans-serif" font-size="14" text-anchor="middle" fill="#1a1a1a">Z<tspan font-size="10" dy="4.8">real</tspan><tspan dy="-4.8" dx="-0.6" font-size="14.5"> (&#937;)</tspan></text><text transform="translate(12.5,127.5) rotate(-90)" font-family="Liberation Sans, sans-serif" font-size="14" text-anchor="middle" fill="#1a1a1a">-Z<tspan font-size="10" dy="4">im</tspan><tspan dy="-4"> (&#937;)</tspan></text><text x="75.5" y="38" font-family="Liberation Sans, sans-serif" font-size="14.5" fill="#1a1a1a">(a)</text><text x="318.5" y="38" font-family="Liberation Sans, sans-serif" font-size="14.5" fill="#1a1a1a">(b)</text><text x="77" y="304.5" font-family="Liberation Sans, sans-serif" font-size="14.5" fill="#1a1a1a">(c)</text><use href="#c1" x="0.0" y="0.0" transform="translate(218.0,35.2) scale(1.0) translate(0.0,0.0)"/><text x="242.7" y="40.2" font-family="Liberation Sans, sans-serif" font-size="14" fill="#1a1a1a">1st</text><use href="#t2" x="0.0" y="0.0" transform="translate(218.0,52.2) scale(1.0) translate(0.0,0.0)"/><text x="242.7" y="57.2" font-family="Liberation Sans, sans-serif" font-size="14" fill="#1a1a1a">2nd</text><use href="#d3" x="0.0" y="0.0" transform="translate(218.0,69.3) scale(1.0) translate(0.0,0.0)"/><text x="242.7" y="74.3" font-family="Liberation Sans, sans-serif" font-size="14" fill="#1a1a1a">3rd</text><use href="#x5" x="0.0" y="0.0" transform="translate(218.0,86.4) scale(1.0) translate(0.0,0.0)"/><text x="242.7" y="91.4" font-family="Liberation Sans, sans-serif" font-size="14" fill="#1a1a1a">5th</text><use href="#h10" x="0.0" y="0.0" transform="translate(218.0,103.4) scale(1.0) translate(0.0,0.0)"/><text x="242.7" y="108.4" font-family="Liberation Sans, sans-serif" font-size="14" fill="#1a1a1a">10th</text><use href="#s15" x="0.0" y="0.0" transform="translate(218.0,120.5) scale(1.0) translate(0.0,0.0)"/><text x="242.7" y="125.5" font-family="Liberation Sans, sans-serif" font-size="14" fill="#1a1a1a">15th</text><use href="#x20" x="0.0" y="0.0" transform="translate(218.0,137.5) scale(1.0) translate(0.0,0.0)"/><text x="242.7" y="142.5" font-family="Liberation Sans, sans-serif" font-size="14" fill="#1a1a1a">20th</text><use href="#v30" x="0.0" y="0.0" transform="translate(218.0,154.6) scale(1.0) translate(0.0,0.0)"/><text x="242.7" y="159.6" font-family="Liberation Sans, sans-serif" font-size="14" fill="#1a1a1a">30th</text><use href="#st40" x="0.0" y="0.0" transform="translate(218.0,171.6) scale(1.0) translate(0.0,0.0)"/><text x="242.7" y="176.6" font-family="Liberation Sans, sans-serif" font-size="14" fill="#1a1a1a">40th</text><use href="#o50" x="0.0" y="0.0" transform="translate(218.0,188.7) scale(1.0) translate(0.0,0.0)"/><text x="242.7" y="193.7" font-family="Liberation Sans, sans-serif" font-size="14" fill="#1a1a1a">50th</text><use href="#c1" x="0.0" y="0.0" transform="translate(469.6,35.2) scale(1.0) translate(0.0,0.0)"/><text x="494.8" y="40.2" font-family="Liberation Sans, sans-serif" font-size="14" fill="#1a1a1a">1st</text><use href="#t2" x="0.0" y="0.0" transform="translate(469.6,52.2) scale(1.0) translate(0.0,0.0)"/><text x="494.8" y="57.2" font-family="Liberation Sans, sans-serif" font-size="14" fill="#1a1a1a">2nd</text><use href="#d3" x="0.0" y="0.0" transform="translate(469.6,69.3) scale(1.0) translate(0.0,0.0)"/><text x="494.8" y="74.3" font-family="Liberation Sans, sans-serif" font-size="14" fill="#1a1a1a">3rd</text><use href="#x5" x="0.0" y="0.0" transform="translate(469.6,86.4) scale(1.0) translate(0.0,0.0)"/><text x="494.8" y="91.4" font-family="Liberation Sans, sans-serif" font-size="14" fill="#1a1a1a">5th</text><use href="#h10" x="0.0" y="0.0" transform="translate(469.6,103.4) scale(1.0) translate(0.0,0.0)"/><text x="494.8" y="108.4" font-family="Liberation Sans, sans-serif" font-size="14" fill="#1a1a1a">10th</text><use href="#s15" x="0.0" y="0.0" transform="translate(469.6,120.5) scale(1.0) translate(0.0,0.0)"/><text x="494.8" y="125.5" font-family="Liberation Sans, sans-serif" font-size="14" fill="#1a1a1a">15th</text><use href="#x20" x="0.0" y="0.0" transform="translate(469.6,137.5) scale(1.0) translate(0.0,0.0)"/><text x="494.8" y="142.5" font-family="Liberation Sans, sans-serif" font-size="14" fill="#1a1a1a">20th</text><use href="#v30" x="0.0" y="0.0" transform="translate(469.6,154.6) scale(1.0) translate(0.0,0.0)"/><text x="494.8" y="159.6" font-family="Liberation Sans, sans-serif" font-size="14" fill="#1a1a1a">30th</text><use href="#st40" x="0.0" y="0.0" transform="translate(469.6,171.6) scale(1.0) translate(0.0,0.0)"/><text x="494.8" y="176.6" font-family="Liberation Sans, sans-serif" font-size="14" fill="#1a1a1a">40th</text><use href="#o50" x="0.0" y="0.0" transform="translate(469.6,188.7) scale(1.0) translate(0.0,0.0)"/><text x="494.8" y="193.7" font-family="Liberation Sans, sans-serif" font-size="14" fill="#1a1a1a">50th</text><path d="M39.9,373.6H67 M144.4,374.8H183 M183,320.4V426 M183,320.4H269.8 M282.3,320.4H493V475.5 M183,426H214.8 M292.5,426.1H322.2 M322.2,373.1V477.2 M322.2,373.1H408 M420.5,373.1H521.3 M322.2,477.2H349.1 M392.1,475.6H430.4 M454.4,475.3H493" stroke="#000" stroke-width="1.9" fill="none" stroke-linecap="round" stroke-linejoin="miter"/><path d="M269.8,306.6V333.6 M282.3,306.6V333.6 M408,359.8V386.9 M420.5,359.8V386.9" stroke="#000" stroke-width="1.9" fill="none" stroke-linecap="round"/><rect x="67" y="356.5" width="77.4" height="33" stroke="#000" stroke-width="1.5" fill="none" stroke-linejoin="round"/><rect x="214.8" y="410" width="77.7" height="33.2" stroke="#000" stroke-width="1.5" fill="none" stroke-linejoin="round"/><rect x="349.1" y="462" width="43" height="29.9" stroke="#000" stroke-width="1.5" fill="none" stroke-linejoin="round"/><path d="M426.8,462.6L434.3,490.4L442.2,463.6L450.2,490.4L457.9,462.6" stroke="#000" stroke-width="2.3" fill="none" stroke-linejoin="miter" stroke-miterlimit="3"/><circle cx="183" cy="373.6" r="5.5" fill="#000"/><circle cx="493.1" cy="373.4" r="5.4" fill="#000"/><text x="95.3" y="380.3" font-family="Liberation Serif, serif" font-weight="bold" font-size="21.5">R<tspan font-size="14.5" dy="5">1</tspan></text><text transform="translate(262.6,360) scale(0.93,1)" font-family="Liberation Serif, serif" font-weight="bold" font-size="26.5">C</text><text x="279.6" y="364.8" font-family="Liberation Serif, serif" font-weight="bold" font-size="16.5">2</text><text x="242.8" y="433.1" font-family="Liberation Serif, serif" font-weight="bold" font-size="21.5">R<tspan font-size="15" dy="5.4">2</tspan></text><text transform="translate(400.8,412.8) scale(0.93,1)" font-family="Liberation Serif, serif" font-weight="bold" font-size="26">C</text><text x="417" y="417.6" font-family="Liberation Serif, serif" font-weight="bold" font-size="16">3</text><text x="359.5" y="484.3" font-family="Liberation Serif, serif" font-weight="bold" font-size="21.5">R<tspan font-size="15" dy="5">3</tspan></text><text x="430.9" y="453.8" font-family="Liberation Serif, serif" font-weight="bold" font-size="24.5">W</text></svg></body></html>
